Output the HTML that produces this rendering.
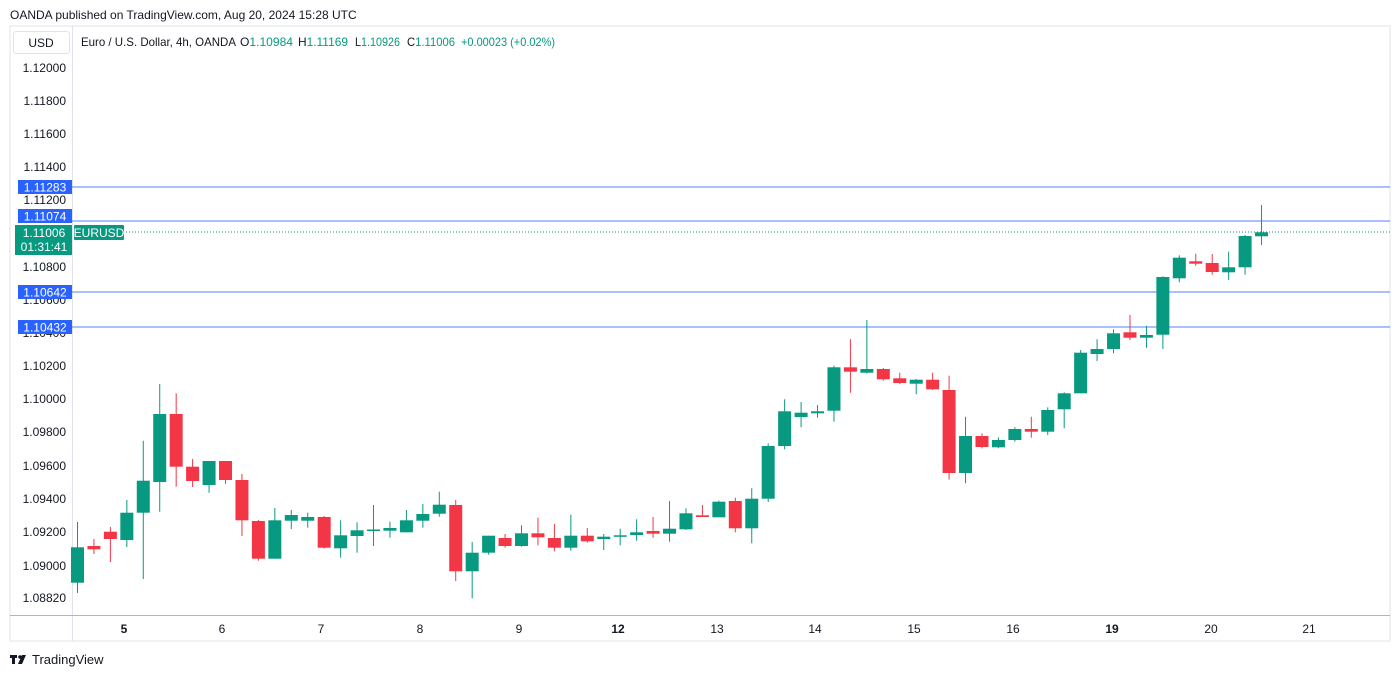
<!DOCTYPE html>
<html><head><meta charset="utf-8"><style>
body{margin:0;background:#fff;width:1400px;height:676px;overflow:hidden;font-family:"Liberation Sans",sans-serif}
</style></head><body>
<svg width="1400" height="676" xmlns="http://www.w3.org/2000/svg" font-family="Liberation Sans, sans-serif">
<rect width="1400" height="676" fill="#fff"/>
<text x="10" y="19" font-size="12" fill="#131722">OANDA published on TradingView.com, Aug 20, 2024 15:28 UTC</text>
<rect x="10" y="26" width="1380" height="615" fill="none" stroke="#e0e3eb" stroke-width="1"/>
<line x1="72.5" y1="26" x2="72.5" y2="641" stroke="#e0e3eb"/>
<line x1="10" y1="615.5" x2="1390" y2="615.5" stroke="#b2b5be"/>
<rect x="13.5" y="31.5" width="56" height="22" rx="3" fill="#fff" stroke="#e0e3eb"/>
<text x="41" y="47" font-size="12" fill="#131722" text-anchor="middle">USD</text>
<g font-size="12" fill="#131722">
<text x="81" y="46" textLength="155" lengthAdjust="spacingAndGlyphs">Euro / U.S. Dollar, 4h, OANDA</text>
<text x="240" y="46" textLength="53" lengthAdjust="spacingAndGlyphs">O<tspan fill="#089981">1.10984</tspan></text>
<text x="298" y="46" textLength="50" lengthAdjust="spacingAndGlyphs">H<tspan fill="#089981">1.11169</tspan></text>
<text x="355" y="46" textLength="45" lengthAdjust="spacingAndGlyphs">L<tspan fill="#089981">1.10926</tspan></text>
<text x="407" y="46" textLength="48" lengthAdjust="spacingAndGlyphs">C<tspan fill="#089981">1.11006</tspan></text>
<text x="461" y="46" fill="#089981" textLength="94" lengthAdjust="spacingAndGlyphs">+0.00023 (+0.02%)</text>
</g>
<g font-size="12" fill="#131722" text-anchor="end">
<text x="66" y="72">1.12000</text><text x="66" y="105">1.11800</text><text x="66" y="138">1.11600</text><text x="66" y="171">1.11400</text><text x="66" y="204">1.11200</text><text x="66" y="271">1.10800</text><text x="66" y="304">1.10600</text><text x="66" y="337">1.10400</text><text x="66" y="370">1.10200</text><text x="66" y="403">1.10000</text><text x="66" y="436">1.09800</text><text x="66" y="470">1.09600</text><text x="66" y="503">1.09400</text><text x="66" y="536">1.09200</text><text x="66" y="570">1.09000</text><text x="66" y="602">1.08820</text>
</g>
<g font-size="12" fill="#131722" text-anchor="middle">
<text x="124" y="633" font-weight="bold">5</text><text x="222" y="633">6</text><text x="321" y="633">7</text><text x="420" y="633">8</text><text x="519" y="633">9</text><text x="618" y="633" font-weight="bold">12</text><text x="717" y="633">13</text><text x="815" y="633">14</text><text x="914" y="633">15</text><text x="1013" y="633">16</text><text x="1112" y="633" font-weight="bold">19</text><text x="1211" y="633">20</text><text x="1309" y="633">21</text>
</g>
<g stroke="#2962ff" stroke-width="1" opacity="0.8">
<line x1="72" y1="187" x2="1390" y2="187"/><line x1="72" y1="221" x2="1390" y2="221"/><line x1="72" y1="292" x2="1390" y2="292"/><line x1="72" y1="327" x2="1390" y2="327"/>
</g>
<line x1="123" y1="232" x2="1390" y2="232" stroke="#089981" stroke-dasharray="1,2"/>
<g id="candles"></g>
<g font-size="12" fill="#fff" text-anchor="middle">
<rect x="18" y="180" width="54" height="14" fill="#2962ff"/><text x="45" y="191.5">1.11283</text>
<rect x="18" y="209" width="54" height="14" fill="#2962ff"/><text x="45" y="220.5">1.11074</text>
<rect x="15" y="225" width="57" height="30" fill="#089981"/><text x="44" y="237">1.11006</text><text x="44" y="251">01:31:41</text>
<rect x="74" y="225" width="50" height="15" rx="1" fill="#089981"/><text x="99" y="237">EURUSD</text>
<rect x="18" y="285" width="54" height="14" fill="#2962ff"/><text x="45" y="296.5">1.10642</text>
<rect x="18" y="320" width="54" height="14" fill="#2962ff"/><text x="45" y="331.5">1.10432</text>
</g>
<g fill="#131722"><rect x="10" y="655" width="7" height="3"/><rect x="12" y="655" width="3" height="9"/><circle cx="20" cy="657" r="1.8"/><polygon points="22,655 26,655 22,664 18,664"/></g>
<text x="32" y="664" font-size="13" fill="#131722">TradingView</text>
</svg>
<script>
var d=[
[547.3,582.7,522,593,1],[546,549.3,539,554,0],[531.7,539,527,562,0],[512.7,540,500,547,1],[480.7,512.7,440.7,579,1],[414,482,384,511.7,1],[414,466.7,393.3,486.7,0],[466.7,481,459,487,0],[461,485,461,492.7,1],[461,480,461,483.7,0],
[480,520.3,474,536,0],[521,558.7,520,560.7,0],[520.3,558.7,508,558.7,1],[515,520.7,510,529,1],[517,520.7,512.7,527.7,1],[517,547.7,516,548.7,0],[535.3,548.3,520.3,557.7,1],[530.3,536,522.3,552.7,1],[529.5,531,505,546,1],[528,530.7,521.7,537.7,1],
[520.3,532.3,510,532.3,1],[514,520.7,504,527.7,1],[504.7,513.7,491.7,516.7,1],[505,571.3,500,581,0],[552.7,571.3,542,598.3,1],[535.7,552.7,535.7,554.7,1],[538,546,534,547.7,0],[533.3,546,525.3,546.7,1],[533.3,537.3,517.7,545.3,0],[538,547.7,524,551.3,0],
[535.7,547.7,514.7,550.7,1],[535.7,541.3,528,542.7,0],[536.7,539,534,550,1],[535.3,536.7,528.7,545.3,1],[532.3,535,519.3,540.7,1],[531,533.7,517,537.7,0],[528.7,533.7,501,541.7,1],[513.3,529.3,508.3,530,1],[515.3,517,505,517,0],[501.7,517.3,500.7,517.3,1],
[501,528.3,497.7,532.3,0],[498.7,528.3,488.3,543.3,1],[446,498.7,443.3,502,1],[411.3,446,399.3,449.3,1],[412.7,417,402,427.3,1],[411.3,413.3,405,417.7,1],[367.3,410.7,365.7,421.7,1],[367.3,371.7,339.3,392.7,0],[369,372.7,320,373.3,1],[369,379.3,368,380.7,0],
[378.3,383,372.7,384,0],[379.7,383.7,379,394.3,1],[379.7,389.3,372.7,390,0],[390,473,375.7,479.7,0],[436,473,416.7,483.3,1],[436,447,433.3,448.3,0],[440,447.3,437.3,448.3,1],[429,440,427.3,441.7,1],[429,431.7,416.7,437.7,0],[410,431.7,407.3,435,1],
[393.3,409.3,392.3,428.3,1],[352.7,393.3,350,393.3,1],[349,354,339.3,361,1],[333.3,349,329.3,353.3,1],[332.3,337.7,315,340,0],[335,337.7,325.7,347.7,1],[277,334.7,276.3,349,1],[257.7,278.3,255.3,282.3,1],[261.3,263.7,253.7,265.7,0],[263,272,254,274.7,0],
[267.3,272.3,251.7,280,1],[236,267.3,235,274.7,1],[232.3,236.3,205,245,1]];
var s='';
for(var i=0;i<d.length;i++){var c=d[i],x=77.5+i*16.445,col=c[4]?'#089981':'#f23645';
s+='<line x1="'+x+'" y1="'+c[2]+'" x2="'+x+'" y2="'+c[3]+'" stroke="'+col+'" stroke-width="1"/>';
var h=Math.max(c[1]-c[0],1.5);
s+='<rect x="'+(x-6.5)+'" y="'+c[0]+'" width="13" height="'+h+'" fill="'+col+'"/>';}
document.getElementById('candles').innerHTML=s;
</script>
</body></html>
